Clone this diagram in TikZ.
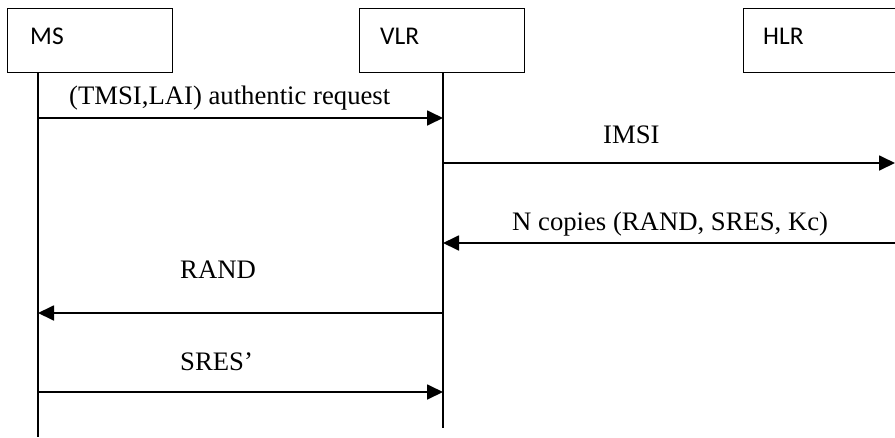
\documentclass[tikz,border=0pt]{standalone}
\usepackage{fontspec}
\setmainfont{Liberation Serif}
\newfontfamily\boxfont{Carlito}
\usetikzlibrary{arrows.meta}

\begin{document}
\begin{tikzpicture}[x=1pt, y=-1pt,
        entity/.style={draw, line width=1.4pt, minimum width=165pt, minimum height=64pt, inner sep=0pt, anchor=north west},
        entity_label/.style={font=\boxfont\fontsize{25.5}{30}\selectfont, inner sep=0pt, anchor=base west},
        lifeline/.style={line width=1.4pt},
        message/.style={line width=1.8pt, -{Triangle[length=16pt, width=15pt]}},
        msg_label/.style={font=\fontsize{26.7}{32}\selectfont, inner sep=0pt, anchor=base west}
    ]
    \useasboundingbox (0,0) rectangle (895,437);
    \clip (0,0) rectangle (895,437);

    % Entita'
    \node[entity] (ms) at (7,8) {};
    \node[entity] (vlr) at (359,8) {};
    \node[entity] (hlr) at (743,8) {};
    \node[entity_label] (mslab) at (30,44) {MS};
    \node[entity_label] (vlrlab) at (380,44) {VLR};
    \node[entity_label] (hlrlab) at (763,44) {HLR};

    % Linee di vita
    \coordinate (msx) at (38,72);
    \coordinate (vlrx) at (443,72);
    \coordinate (hlrx) at (895,72);
    \draw[lifeline] (msx) -- (msx |- 0,437);
    \draw[lifeline] (vlrx) -- (vlrx |- 0,428);

    % Messaggi
    \draw[message] (msx |- 0,118) -- (vlrx |- 0,118);
    \draw[message] (vlrx |- 0,163) -- (hlrx |- 0,163);
    \draw[message] (hlrx |- 0,243) -- (vlrx |- 0,243);
    \draw[message] (vlrx |- 0,313) -- (msx |- 0,313);
    \draw[message] (msx |- 0,392) -- (vlrx |- 0,392);

    % Etichette
    \node[msg_label] (auth) at (69,104) {(TMSI,LAI) authentic request};
    \node[msg_label] (imsi) at (603,143) {IMSI};
    \node[msg_label] (copies) at (512,230) {N copies (RAND, SRES, Kc)};
    \node[msg_label] (rand) at (180,278) {RAND};
    \node[msg_label] (sres) at (180,370) {SRES’};
\end{tikzpicture}
\end{document}
